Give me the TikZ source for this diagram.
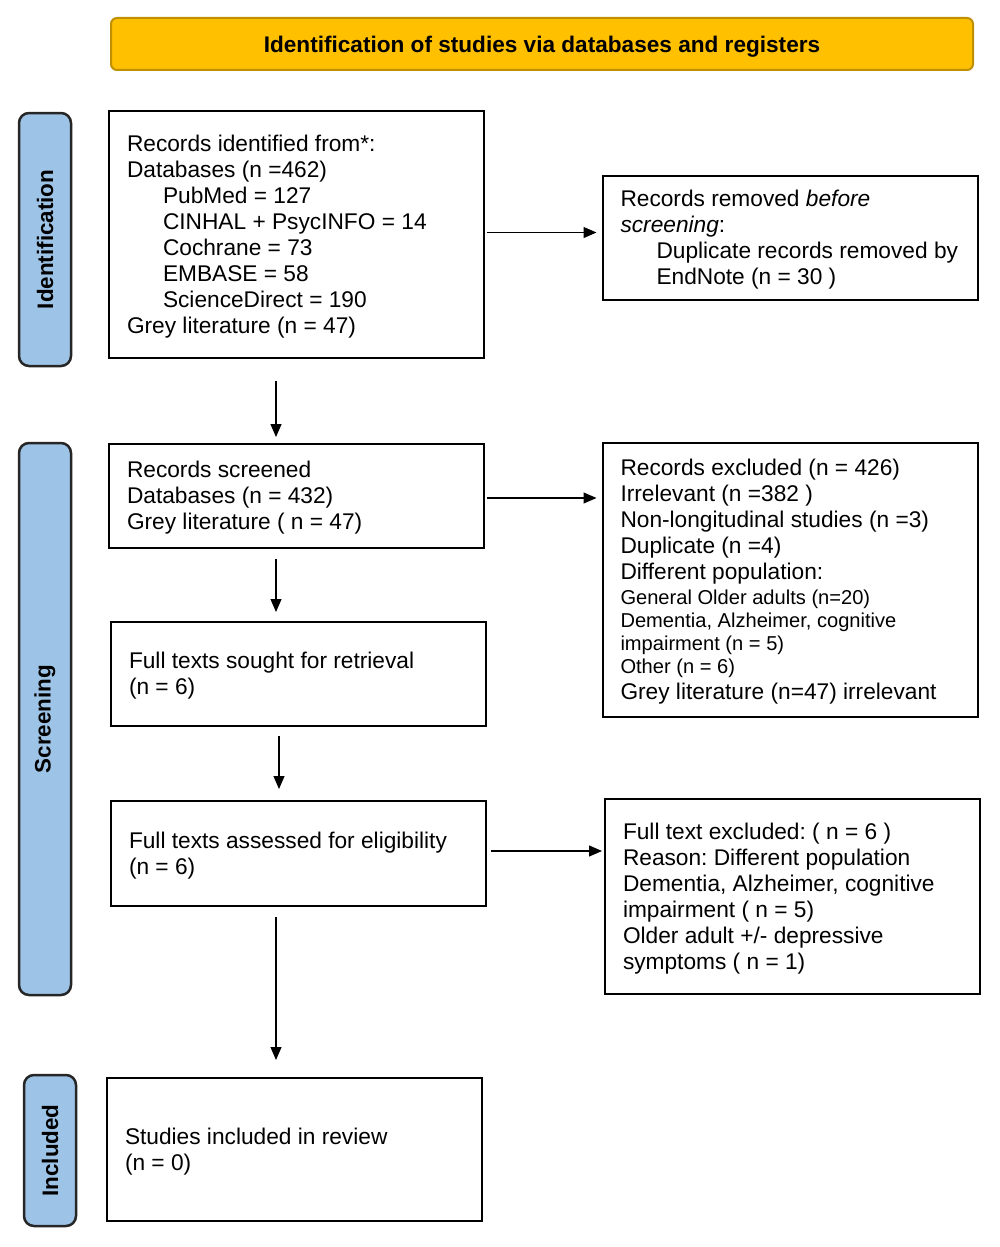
\documentclass[tikz,border=0pt]{standalone}
\usepackage{fontspec}
\setmainfont{Liberation Sans}
\usetikzlibrary{arrows.meta}
\definecolor{titlefill}{HTML}{FFC000}
\definecolor{titledraw}{HTML}{BF9000}
\definecolor{sidefill}{HTML}{9DC3E6}
\definecolor{sidedraw}{HTML}{262626}
\newcommand{\ind}{\hspace*{36pt}}
\newcommand{\smf}{\fontsize{20.1}{23}\selectfont}
\begin{document}
\frenchspacing
\begin{tikzpicture}[x=1pt,y=-1pt,
  every node/.style={font=\fontsize{22.7}{26}\selectfont},
  box/.style={draw=black, line width=2pt, text width=339pt, align=flush left,
    inner xsep=18pt, inner ysep=0pt, minimum width=375pt,
    execute at begin node={\frenchspacing\spaceskip=0pt\xspaceskip=0pt\rule{0pt}{20.5pt}}},
  side/.style={draw=sidedraw, fill=sidefill, line width=2.5pt, rounded corners=10pt,
    rotate=90, minimum height=52pt, inner sep=0pt, font=\fontsize{22.4}{26}\selectfont\bfseries},
  arr/.style={-{Triangle[length=13pt,width=11pt]}, line width=1.1pt}]
\useasboundingbox (0,0) rectangle (1000,1247);
% title
\node[draw=titledraw, fill=titlefill, line width=2pt, rounded corners=6pt,
  minimum width=862pt, minimum height=52pt, inner sep=0pt, text depth=0pt,
  font=\fontsize{22.6}{26}\selectfont\bfseries] (title) at (542,44)
  {Identification of studies via databases and registers};
% side labels
\node[side, minimum width=253pt] (sid) at (45,239.5) {Identification};
\node[side, minimum width=552pt] (ssc) at (45,719) {Screening};
\node[side, minimum width=151pt] (sin) at (50,1150.5) {Included};
% boxes
\node[box, minimum height=247pt] (b1) at (296.5,234.5)
  {Records identified from*:\\
   Databases (n =462)\\
   \ind PubMed = 127\\
   \ind CINHAL + PsycINFO = 14\\
   \ind Cochrane = 73\\
   \ind EMBASE = 58\\
   \ind ScienceDirect = 190\\
   Grey literature (n = 47)};
\node[box, minimum width=374pt, minimum height=124pt] (rem) at (790,238)
  {Records removed \textit{before}\\
   \textit{screening}:\\
   \ind\mbox{Duplicate records removed by}\\
   \ind EndNote (n = 30 )};
\node[box, minimum height=104pt] (scr) at (296.5,496)
  {Records screened\\
   Databases (n = 432)\\
   Grey literature ( n = 47)};
\node[box, minimum width=374pt, minimum height=274pt] (exc) at (790,580)
  {Records excluded (n = 426)\\
   Irrelevant (n =382 )\\
   Non-longitudinal studies (n =3)\\
   Duplicate (n =4)\\
   Different population:\\[-1pt]
   {\smf General Older adults (n=20)}\\[-3pt]
   {\smf Dementia, Alzheimer, cognitive}\\[-3pt]
   {\smf impairment (n = 5)}\\[-3pt]
   {\smf Other (n = 6)}\\
   Grey literature (n=47) irrelevant};
\node[box, minimum height=104pt] (sou) at (298.5,674)
  {Full texts sought for retrieval\\
   (n = 6)};
\node[box, minimum height=105pt] (ass) at (298.5,853.5)
  {Full texts assessed for eligibility\\
   (n = 6)};
\node[box, minimum height=195pt] (fte) at (792.5,896.5)
  {Full text excluded: ( n = 6 )\\
   Reason: Different population\\
   Dementia, Alzheimer, cognitive\\
   impairment ( n = 5)\\
   Older adult +/- depressive\\
   symptoms ( n = 1)};
\node[box, minimum height=143pt, inner xsep=17pt] (inc) at (294.5,1149.5)
  {Studies included in review\\
   (n = 0)};
% arrows
\draw[arr, shorten <=2pt, shorten >=5pt] ([yshift=2pt]b1.east) -- ([yshift=2pt]b1.east -| rem.west);
\draw[arr, shorten <=2pt, shorten >=5pt] ([yshift=-2pt]scr.east) -- ([yshift=-2pt]scr.east -| exc.west);
\draw[arr, shorten <=4pt, shorten >=2pt] ([yshift=2.5pt]ass.east) -- ([yshift=2.5pt]ass.east -| fte.west);
\draw[arr, shorten <=22pt, shorten >=6pt] ([xshift=-20.5pt]b1.south) -- ([xshift=-20.5pt]scr.north);
\draw[arr, shorten <=10pt, shorten >=9pt] ([xshift=-20.5pt]scr.south) -- ([xshift=-22.5pt]sou.north);
\draw[arr, shorten <=9pt, shorten >=11pt] ([xshift=-19.5pt]sou.south) -- ([xshift=-19.5pt]ass.north);
\draw[arr, shorten <=10pt, shorten >=17pt] ([xshift=-22.5pt]ass.south) -- ([xshift=-18.5pt]inc.north);
\end{tikzpicture}
\end{document}
